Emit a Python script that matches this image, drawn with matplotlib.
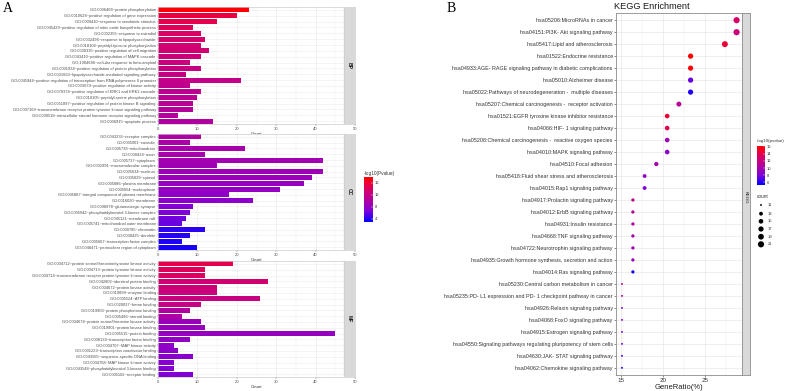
import numpy as np
import matplotlib
matplotlib.use("Agg")
import matplotlib.pyplot as plt
from matplotlib.colors import LinearSegmentedColormap, Normalize
from matplotlib.cm import ScalarMappable

plt.rcParams["font.family"] = ["Liberation Sans", "DejaVu Sans"]

# ---------------------------
# GO data (panel A)
# ---------------------------
bp_terms = [
    "GO:0006468~protein phosphorylation",
    "GO:0010628~positive regulation of gene expression",
    "GO:0009410~response to xenobiotic stimulus",
    "GO:0045429~positive regulation of nitric oxide biosynthetic process",
    "GO:0032355~response to estradiol",
    "GO:0032496~response to lipopolysaccharide",
    "GO:0018108~peptidyl-tyrosine phosphorylation",
    "GO:0030335~positive regulation of cell migration",
    "GO:0043410~positive regulation of MAPK cascade",
    "GO:1904646~cellular response to beta-amyloid",
    "GO:0001934~positive regulation of protein phosphorylation",
    "GO:0031663~lipopolysaccharide-mediated signaling pathway",
    "GO:0045944~positive regulation of transcription from RNA polymerase II promoter",
    "GO:0033674~positive regulation of kinase activity",
    "GO:0070374~positive regulation of ERK1 and ERK2 cascade",
    "GO:0018105~peptidyl-serine phosphorylation",
    "GO:0051897~positive regulation of protein kinase B signaling",
    "GO:0007169~transmembrane receptor protein tyrosine kinase signaling pathway",
    "GO:0030518~intracellular steroid hormone receptor signaling pathway",
    "GO:0006915~apoptotic process",
]
bp_count = [23, 20, 15, 9, 11, 12, 11, 13, 11, 8, 11, 7, 21, 8, 11, 10, 9, 9, 5, 14]
bp_logp = [17.8, 15.5, 15.0, 14.5, 14.0, 13.5, 13.2, 13.0, 12.7, 12.5,
           12.2, 12.0, 11.7, 11.5, 11.2, 11.0, 10.8, 10.6, 10.4, 10.2]

cc_terms = [
    "GO:0043235~receptor complex",
    "GO:0005901~caveola",
    "GO:0005739~mitochondrion",
    "GO:0030424~axon",
    "GO:0005737~cytoplasm",
    "GO:0032991~macromolecular complex",
    "GO:0005634~nucleus",
    "GO:0005829~cytosol",
    "GO:0005886~plasma membrane",
    "GO:0005654~nucleoplasm",
    "GO:0005887~integral component of plasma membrane",
    "GO:0016020~membrane",
    "GO:0098978~glutamatergic synapse",
    "GO:0005942~phosphatidylinositol 3-kinase complex",
    "GO:0045121~membrane raft",
    "GO:0005741~mitochondrial outer membrane",
    "GO:0000785~chromatin",
    "GO:0030425~dendrite",
    "GO:0005667~transcription factor complex",
    "GO:0048471~perinuclear region of cytoplasm",
]
cc_count = [11, 8, 22, 12, 42, 15, 42, 39, 37, 31, 18, 24, 9, 8, 7, 6, 12, 8, 6, 10]
cc_logp = [10.0, 9.8, 9.6, 9.5, 9.2, 9.0, 8.8, 8.6, 8.3, 8.1,
           7.8, 7.6, 7.0, 6.7, 6.3, 6.0, 4.2, 4.0, 3.8, 3.6]

mf_terms = [
    "GO:0004712~protein serine/threonine/tyrosine kinase activity",
    "GO:0004713~protein tyrosine kinase activity",
    "GO:0004714~transmembrane receptor protein tyrosine kinase activity",
    "GO:0042802~identical protein binding",
    "GO:0004672~protein kinase activity",
    "GO:0019899~enzyme binding",
    "GO:0005524~ATP binding",
    "GO:0020037~heme binding",
    "GO:0019903~protein phosphatase binding",
    "GO:0005496~steroid binding",
    "GO:0004674~protein serine/threonine kinase activity",
    "GO:0019901~protein kinase binding",
    "GO:0005515~protein binding",
    "GO:0008134~transcription factor binding",
    "GO:0004707~MAP kinase activity",
    "GO:0001223~transcription coactivator binding",
    "GO:0043565~sequence-specific DNA binding",
    "GO:0004708~MAP kinase kinase activity",
    "GO:0043548~phosphatidylinositol 3-kinase binding",
    "GO:0005102~receptor binding",
]
mf_count = [19, 12, 12, 28, 15, 15, 26, 11, 8, 6, 11, 12, 45, 8, 4, 5, 9, 4, 4, 9]
mf_logp = [15.0, 14.5, 14.2, 13.0, 12.8, 12.5, 12.2, 12.0, 10.2, 10.0,
           8.6, 8.4, 8.2, 8.0, 7.8, 7.6, 7.4, 7.2, 7.0, 6.8]

# ---------------------------
# KEGG data (panel B)
# ---------------------------
kegg_terms = [
    "hsa05206:MicroRNAs in cancer",
    "hsa04151:PI3K- Akt signaling pathway",
    "hsa05417:Lipid and atherosclerosis",
    "hsa01522:Endocrine resistance",
    "hsa04933:AGE- RAGE signaling pathway in diabetic complications",
    "hsa05010:Alzheimer disease",
    "hsa05022:Pathways of neurodegeneration -  multiple diseases",
    "hsa05207:Chemical carcinogenesis -  receptor activation",
    "hsa01521:EGFR tyrosine kinase inhibitor resistance",
    "hsa04066:HIF- 1 signaling pathway",
    "hsa05208:Chemical carcinogenesis -  reactive oxygen species",
    "hsa04010:MAPK signaling pathway",
    "hsa04510:Focal adhesion",
    "hsa05418:Fluid shear stress and atherosclerosis",
    "hsa04015:Rap1 signaling pathway",
    "hsa04917:Prolactin signaling pathway",
    "hsa04012:ErbB signaling pathway",
    "hsa04931:Insulin resistance",
    "hsa04668:TNF signaling pathway",
    "hsa04722:Neurotrophin signaling pathway",
    "hsa04935:Growth hormone synthesis, secretion and action",
    "hsa04014:Ras signaling pathway",
    "hsa05230:Central carbon metabolism in cancer",
    "hsa05235:PD- L1 expression and PD- 1 checkpoint pathway in cancer",
    "hsa04926:Relaxin signaling pathway",
    "hsa04068:FoxO signaling pathway",
    "hsa04915:Estrogen signaling pathway",
    "hsa04550:Signaling pathways regulating pluripotency of stem cells",
    "hsa04630:JAK- STAT signaling pathway",
    "hsa04062:Chemokine signaling pathway",
]
kegg_count = [21, 21, 20, 17, 17, 17, 17, 16, 15, 15, 15, 15, 14, 13, 13,
              12, 12, 12, 12, 12, 12, 12, 11, 11, 11, 11, 11, 11, 11, 11]
kegg_ratio = [28.8, 28.8, 27.4, 23.3, 23.3, 23.3, 23.3, 21.9, 20.5, 20.5, 20.5, 20.5, 19.2, 17.8, 17.8,
              16.4, 16.4, 16.4, 16.4, 16.4, 16.4, 16.4, 15.1, 15.1, 15.1, 15.1, 15.1, 15.1, 15.1, 15.1]
kegg_logp = [13.0, 12.2, 14.5, 16.0, 16.0, 7.5, 6.0, 11.0, 14.5, 14.0, 9.5, 8.5, 10.0, 9.0, 8.0,
             11.5, 11.0, 10.5, 10.0, 9.5, 9.5, 5.6, 10.5, 10.0, 8.0, 8.5, 8.0, 7.5, 7.0, 6.0]
size_legend = [11, 13, 15, 17, 19, 21]

W, H = 789, 391
fig = plt.figure(figsize=(W / 100, H / 100), dpi=100)
fig.patch.set_facecolor("white")


def px_axes(l, t, r, b):
    return fig.add_axes([l / W, 1 - b / H, (r - l) / W, (b - t) / H])


cmap = LinearSegmentedColormap.from_list(
    "bluered", [(0, "#0000FF"), (0.25, "#8000D8"), (0.5, "#B4009C"), (0.75, "#DD0060"), (1, "#FF0000")])
grid_c = "#ebebeb"

# ---------------------------
# Panel A: GO bars
# ---------------------------
go_norm = Normalize(2.9, 18.0)


def go_panel(top, bottom, labels, counts, logp, strip):
    ax = px_axes(158, top, 355, bottom)
    n = len(labels)
    y = np.arange(1, n + 1)
    ax.set_xlim(0, 50)
    ax.set_ylim(n + 0.5, 0.5)
    for v in range(0, 51, 5):
        ax.axvline(v, color=grid_c, lw=0.5 if v % 10 == 0 else 0.25, zorder=0)
    for yy in y:
        ax.axhline(yy, color=grid_c, lw=0.4, zorder=0)
    ax.barh(y, counts, height=0.86, color=cmap(go_norm(np.array(logp))), zorder=2)
    ax.axvspan(47.2, 50, color="#d9d9d9", zorder=3)
    ax.axvline(47.2, color="#cccccc", lw=0.5, zorder=3)
    ax.text(48.6, (n + 1) / 2, strip, rotation=-90, ha="center", va="center",
            fontsize=3.6, fontweight="bold", color="#1a1a1a", zorder=4)
    ax.set_yticks(y)
    ax.set_yticklabels(labels, fontsize=2.85, color="#4d4d4d")
    ax.set_xticks(range(0, 51, 10))
    ax.tick_params(axis="x", labelsize=3, length=1.2, width=0.3, pad=0.8,
                   colors="#4d4d4d")
    ax.tick_params(axis="y", length=0.8, width=0.3, pad=0.8, colors="#4d4d4d")
    ax.set_xlabel("Count", fontsize=3.2, labelpad=0.8, color="#333333")
    for s in ax.spines.values():
        s.set_color("#cccccc")
        s.set_linewidth(0.5)


go_panel(7, 124, bp_terms, bp_count, bp_logp, "BP")
go_panel(134, 250, cc_terms, cc_count, cc_logp, "CC")
go_panel(261, 377, mf_terms, mf_count, mf_logp, "MF")

cax_a = px_axes(364, 177, 373, 222)
cb_a = fig.colorbar(ScalarMappable(norm=go_norm, cmap=cmap), cax=cax_a, ticks=[4, 8, 12, 16])
cb_a.outline.set_visible(False)
cax_a.tick_params(labelsize=3, length=1.5, width=0.3, color="white", direction="in", pad=1.5,
                  labelcolor="#333333")

# ---------------------------
# Panel B: KEGG dots
# ---------------------------
kegg_norm = Normalize(5.3, 16.1)


def dot_size(c):
    d = 1.9 + 4.3 * np.sqrt((np.array(c, dtype=float) - 11) / 10)
    return (d * 0.72) ** 2


axb = px_axes(616, 13, 742, 375)
n = len(kegg_terms)
y = np.arange(1, n + 1)
axb.set_xlim(14.38, 29.45)
axb.set_ylim(n + 0.6, 0.4)
for v in [15, 17.5, 20, 22.5, 25, 27.5]:
    axb.axvline(v, color=grid_c, lw=0.6 if v % 5 == 0 else 0.35, zorder=0)
for yy in y:
    axb.axhline(yy, color=grid_c, lw=0.6, zorder=0)
axb.scatter(kegg_ratio, y, s=dot_size(kegg_count), c=kegg_logp, cmap=cmap, norm=kegg_norm,
            linewidths=0, zorder=3)
axb.set_yticks(y)
axb.set_yticklabels(kegg_terms, fontsize=3.9, color="#333333")
axb.set_xticks([15, 20, 25])
axb.tick_params(axis="x", labelsize=4.5, length=1.5, width=0.4, pad=1, colors="#333333")
axb.tick_params(axis="y", length=1.5, width=0.4, pad=0.8, colors="#333333")
axb.set_xlabel("GeneRatio(%)", fontsize=5.5, labelpad=0.5, color="#222222")
for s in axb.spines.values():
    s.set_color("#8c8c8c")
    s.set_linewidth(0.6)

strip_b = px_axes(742, 13, 750, 375)
strip_b.set_facecolor("#d9d9d9")
strip_b.set_xticks([])
strip_b.set_yticks([])
for s in strip_b.spines.values():
    s.set_color("#8c8c8c")
    s.set_linewidth(0.6)
strip_b.text(0.5, 0.49, "KEGG", rotation=-90, ha="center", va="center", fontsize=3.2,
             color="#1a1a1a", transform=strip_b.transAxes)

cax_b = px_axes(757, 146, 765, 185)
cb_b = fig.colorbar(ScalarMappable(norm=kegg_norm, cmap=cmap), cax=cax_b, ticks=[6, 8, 10, 12, 14, 16])
cb_b.outline.set_visible(False)
cax_b.tick_params(labelsize=3, length=1.5, width=0.3, color="white", direction="in", pad=1.5,
                  labelcolor="#333333")

# ---------------------------
# Overlay: titles, panel letters, size legend
# ---------------------------
ov = fig.add_axes([0, 0, 1, 1], zorder=10)
ov.set_xlim(0, W)
ov.set_ylim(H, 0)
ov.axis("off")
ov.patch.set_alpha(0)

ov.text(3, 9, "A", fontsize=10, family="Liberation Serif", va="center", ha="left")
ov.text(447, 8, "B", fontsize=10, family="Liberation Serif", va="center", ha="left")
ov.text(614, 6.5, "KEGG Enrichment", fontsize=6.6, va="center", ha="left", color="#1a1a1a")
ov.text(364, 173, "-log10(Pvalue)", fontsize=3.4, va="center", ha="left", color="#333333")
ov.text(757, 141, "-log10(pvalue)", fontsize=3.2, va="center", ha="left", color="#333333")
ov.text(757, 197, "count", fontsize=3.4, va="center", ha="left", color="#333333")

leg_y = [205, 213.7, 221.3, 229, 236.7, 244.3]
ov.scatter([761] * len(size_legend), leg_y, s=dot_size(size_legend), color="black", linewidths=0)
for c, yy in zip(size_legend, leg_y):
    ov.text(768, yy, str(c), fontsize=3, va="center", ha="left", color="#333333")

fig.savefig("out.png", dpi=100)
